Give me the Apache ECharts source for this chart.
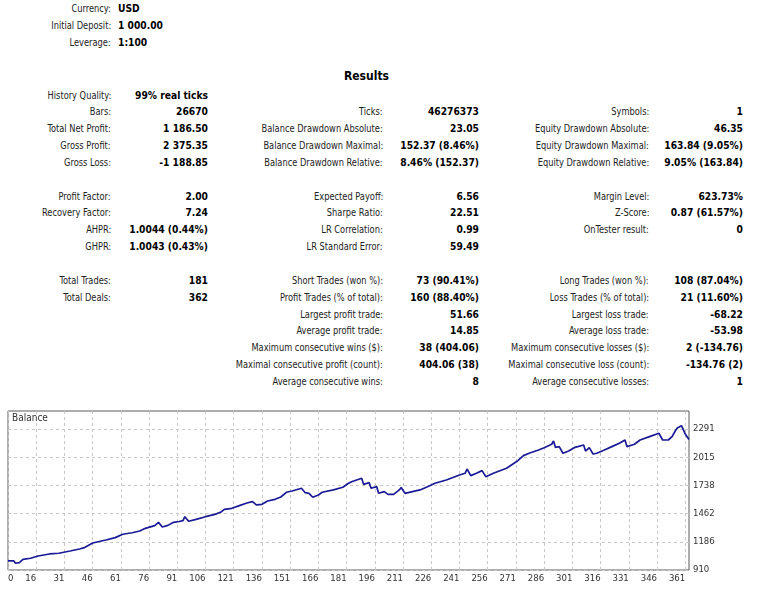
<!DOCTYPE html>
<html><head><meta charset="utf-8">
<script src="https://cdn.jsdelivr.net/npm/echarts@6.0.0/dist/echarts.min.js"></script>
<style>
html,body{margin:0;padding:0;background:#fff;width:761px;height:600px;overflow:hidden;}
body{position:relative;font-family:"DejaVu Sans Condensed","DejaVu Sans",sans-serif;font-size:10px;color:#222;}
.t{position:absolute;white-space:nowrap;line-height:14px;height:14px;}
.lab{transform:scaleX(0.92);transform-origin:100% 50%;}
.v{font-weight:bold;color:#000;font-size:10.2px;}
.h{font-weight:bold;color:#000;font-size:12px;line-height:16px;height:16px;}
#chart{position:absolute;left:0;top:400px;width:761px;height:200px;}
</style></head><body>
<div id="chart"></div>
<script>
// ---------- report text ----------
const headerLabels = ["Currency:", "Initial Deposit:", "Leverage:"];
const headerValues = ["USD", "1 000.00", "1:100"];
const resultsTitle = "Results";
const col1Labels = ["History Quality:","Bars:","Total Net Profit:","Gross Profit:","Gross Loss:","","Profit Factor:","Recovery Factor:","AHPR:","GHPR:","","Total Trades:","Total Deals:","","","","",""];
const col1Values = ["99% real ticks","26670","1 186.50","2 375.35","-1 188.85","","2.00","7.24","1.0044 (0.44%)","1.0043 (0.43%)","","181","362","","","","",""];
const col2Labels = ["","Ticks:","Balance Drawdown Absolute:","Balance Drawdown Maximal:","Balance Drawdown Relative:","","Expected Payoff:","Sharpe Ratio:","LR Correlation:","LR Standard Error:","","Short Trades (won %):","Profit Trades (% of total):","Largest profit trade:","Average profit trade:","Maximum consecutive wins ($):","Maximal consecutive profit (count):","Average consecutive wins:"];
const col2Values = ["","46276373","23.05","152.37 (8.46%)","8.46% (152.37)","","6.56","22.51","0.99","59.49","","73 (90.41%)","160 (88.40%)","51.66","14.85","38 (404.06)","404.06 (38)","8"];
const col3Labels = ["","Symbols:","Equity Drawdown Absolute:","Equity Drawdown Maximal:","Equity Drawdown Relative:","","Margin Level:","Z-Score:","OnTester result:","","","Long Trades (won %):","Loss Trades (% of total):","Largest loss trade:","Average loss trade:","Maximum consecutive losses ($):","Maximal consecutive loss (count):","Average consecutive losses:"];
const col3Values = ["","1","46.35","163.84 (9.05%)","9.05% (163.84)","","623.73%","0.87 (61.57%)","0","","","108 (87.04%)","21 (11.60%)","-68.22","-53.98","2 (-134.76)","-134.76 (2)","1"];

// ---------- balance chart data ----------
const chartTitle = "Balance";
const dealIndex = [0,3,4,6,8,12,16,22,27,33,38,41,45,52,57,61,66,70,73,78,80,82,85,88,91,93,94,96,100,105,110,113,115,119,123,127,130,131,132,135,138,142,145,148,151,156,157,158,160,161,162,165,167,173,178,181,183,188,189,192,193,196,197,200,202,205,208,209,211,219,223,227,233,240,243,244,246,249,252,254,258,265,269,271,274,277,282,285,289,290,291,293,295,298,301,306,307,309,311,313,317,321,325,328,329,333,336,341,346,348,351,353,355,356,358,360,362];
const balance = [1000,1000,976,982,1014,1025,1047,1067,1074,1096,1116,1132,1174,1204,1227,1260,1275,1292,1318,1344,1377,1331,1347,1377,1385,1393,1432,1387,1406,1432,1455,1475,1504,1514,1540,1566,1579,1589,1547,1553,1586,1602,1625,1671,1684,1710,1717,1667,1661,1668,1622,1645,1671,1694,1720,1759,1777,1808,1749,1765,1710,1726,1661,1677,1651,1651,1694,1717,1661,1694,1726,1759,1791,1840,1857,1899,1834,1857,1883,1824,1857,1906,1955,1980,2030,2053,2085,2108,2141,2173,2111,2118,2053,2075,2108,2134,2075,2108,2046,2053,2085,2118,2151,2183,2118,2141,2183,2216,2249,2183,2183,2216,2281,2304,2323,2242,2187];
const xTickValues = [0,15,30,45,60,75,90,105,120,135,150,165,180,195,210,225,240,255,270,285,300,315,330,345,360];
const xTickLabels = ["0","16","31","46","61","76","91","106","121","136","151","166","181","196","211","226","241","256","271","286","301","316","331","346","361"];
const yTickValues = [910,1186.25,1462.5,1738.75,2015,2291.25];
const yTickLabels = ["910","1186","1462","1738","2015","2291"];
const xMax = 362, yMin = 910, yMax = 2467;

// ---------- build text ----------
function put(text, cls, yc, opts) {
  if (!text) return;
  const d = document.createElement('div');
  d.className = 't ' + cls;
  d.textContent = text;
  d.style.top = (yc - 7) + 'px';
  if (opts.right !== undefined) { d.style.right = (761 - opts.right) + 'px'; }
  if (opts.left !== undefined) { d.style.left = opts.left + 'px'; }
  document.body.appendChild(d);
}
headerLabels.forEach((s, i) => {
  put(s, 'lab', 8.5 + 17 * i, {right: 111});
  put(headerValues[i], 'v', 8.5 + 17 * i, {left: 118});
});
{
  const d = document.createElement('div');
  d.className = 't h'; d.textContent = resultsTitle;
  d.style.left = '0px'; d.style.width = '733px'; d.style.textAlign = 'center'; d.style.top = (76 - 8) + 'px';
  document.body.appendChild(d);
}
const cols = [[col1Labels, col1Values, 111, 208], [col2Labels, col2Values, 383, 479], [col3Labels, col3Values, 649, 743]];
cols.forEach(([labs, vals, lr, vr]) => {
  labs.forEach((s, i) => {
    const yc = 95.5 + 16.85 * i;
    put(s, 'lab', yc, {right: lr});
    put(vals[i], 'v', yc, {right: vr});
  });
});

// ---------- chart ----------
const FONT = '"DejaVu Sans Condensed","DejaVu Sans",sans-serif';
const chart = echarts.init(document.getElementById('chart'), null, {renderer: 'canvas'});
chart.setOption({
  animation: false,
  backgroundColor: 'transparent',
  textStyle: {fontFamily: FONT},
  title: {text: chartTitle, left: 12, top: 13, padding: 0,
    textStyle: {fontSize: 10, fontWeight: 'normal', color: '#333', fontFamily: FONT}},
  grid: {left: 8, top: 11, right: 72, bottom: 30, show: true, borderColor: '#5a5a5a', borderWidth: 1,
    backgroundColor: '#fff', containLabel: false, outerBoundsMode: 'none'},
  xAxis: {
    type: 'value', min: 0, max: xMax,
    axisLine: {show: false},
    axisTick: {show: false, customValues: xTickValues},
    axisLabel: {customValues: xTickValues, formatter: v => xTickLabels[xTickValues.indexOf(v)] || '',
      align: 'right', alignMinLabel: 'left', margin: 4, fontSize: 9.5, color: '#333', fontFamily: FONT,
      showMaxLabel: true, showMinLabel: true},
    splitLine: {show: true, lineStyle: {type: [3, 3], color: '#c8c8c8', width: 1}}
  },
  yAxis: {
    type: 'value', position: 'right', min: yMin, max: yMax,
    axisLine: {show: false},
    axisTick: {show: false, customValues: yTickValues},
    axisLabel: {customValues: yTickValues, formatter: v => yTickLabels[yTickValues.indexOf(v)] || '',
      margin: 4, fontSize: 9.5, color: '#333', fontFamily: FONT, showMaxLabel: true, showMinLabel: true},
    splitLine: {show: true, lineStyle: {type: [3, 3], color: '#c8c8c8', width: 1}}
  },
  series: [{
    type: 'line', data: dealIndex.map((x, i) => [x, balance[i]]),
    showSymbol: false, symbol: 'none', smooth: false,
    lineStyle: {color: '#1a1a96', width: 1.7}, z: 5
  }]
});
</script>
</body></html>
